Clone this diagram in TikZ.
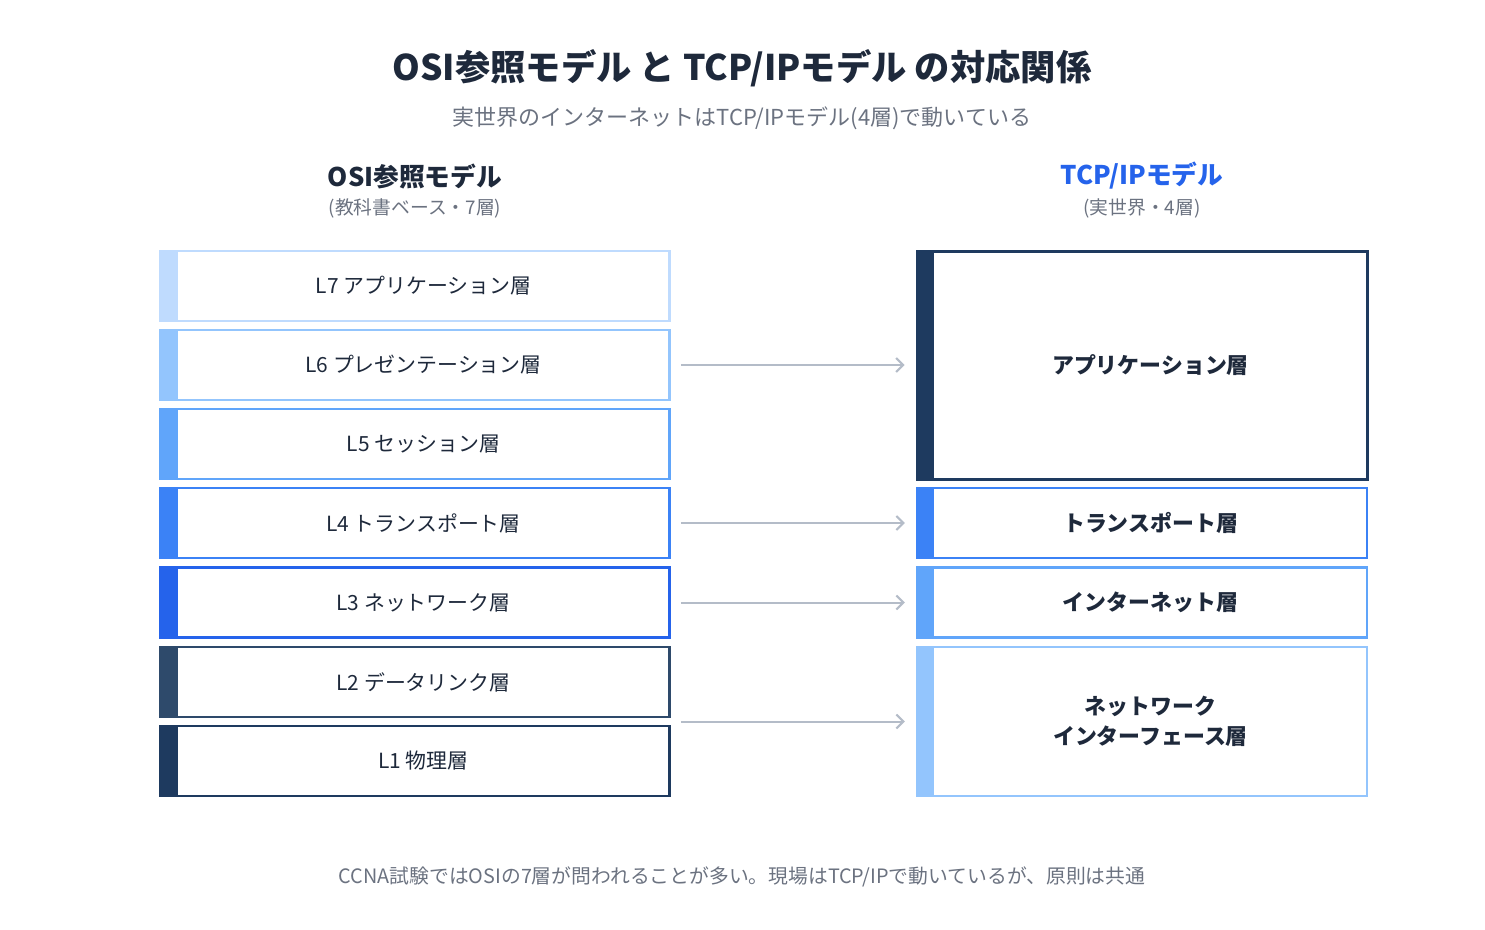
\documentclass[tikz,border=0pt]{standalone}
\usepackage{fontspec}
\setmainfont{Noto Sans CJK JP}
\usetikzlibrary{arrows.meta}
\definecolor{ink}{HTML}{1E293B}
\definecolor{muted}{HTML}{6B7280}
\definecolor{cA}{HTML}{BFDBFE}
\definecolor{cB}{HTML}{93C5FD}
\definecolor{cC}{HTML}{60A5FA}
\definecolor{cD}{HTML}{3B82F6}
\definecolor{cE}{HTML}{2563EB}
\definecolor{cF}{HTML}{2E4A6B}
\definecolor{cG}{HTML}{1E3A5F}
\definecolor{arrowgray}{HTML}{B4BCC8}
\tikzset{
  layerbox/.style={draw=#1, fill=white, line width=2.5pt, minimum width=509, minimum height=70,
    inner sep=0pt, text=ink, font=\fontsize{20.9}{25}\selectfont,
    execute at begin node=\hspace*{17pt},
    path picture={\fill[#1] (path picture bounding box.north west) rectangle ([xshift=17]path picture bounding box.south west);}},
  tcpbox/.style={layerbox=#1, minimum width=450, font=\fontsize{21.9}{30}\selectfont\bfseries, align=center},
  maparrow/.style={draw=arrowgray, line width=2pt, -{Straight Barb[length=7pt,width=14pt,line width=2pt]}},
  titletext/.style={text=ink, font=\fontsize{35.3}{40}\selectfont\bfseries},
  subtext/.style={text=muted, font=\fontsize{22}{26}\selectfont},
  headtext/.style={font=\fontsize{25.7}{30}\selectfont\bfseries},
  headsub/.style={text=muted, font=\fontsize{18.8}{22}\selectfont},
}
\begin{document}
\begin{tikzpicture}[x=1pt,y=-1pt]
\useasboundingbox (0,0) rectangle (1485,929);
\node[titletext] (title) at (742,68.5) {OSI参照モデル と TCP/IPモデル の対応関係};
\node[subtext] (subtitle) at (742,118) {実世界のインターネットはTCP/IPモデル(4層)で動いている};
\node[headtext, text=ink] (osihead) at (415,176) {OSI参照モデル};
\node[headsub] (osisub) at (415,208) {(教科書ベース・7層)};
\node[headtext, text=cE] (tcphead) at (1142,176) {TCP/IPモデル};
\node[headsub] (tcpsub) at (1142,208) {(実世界・4層)};
% OSI layers
\node[layerbox=cA] (l7) at (415,286) {L7 アプリケーション層};
\node[layerbox=cB] (l6) at (415,365) {L6 プレゼンテーション層};
\node[layerbox=cC] (l5) at (415,444) {L5 セッション層};
\node[layerbox=cD] (l4) at (415,523) {L4 トランスポート層};
\node[layerbox=cE] (l3) at (415,602.5) {L3 ネットワーク層};
\node[layerbox=cF] (l2) at (415,682) {L2 データリンク層};
\node[layerbox=cG] (l1) at (415,761) {L1 物理層};
% TCP/IP layers
\node[tcpbox=cG, minimum height=228, line width=3pt] (app) at (1142,365) {アプリケーション層};
\node[tcpbox=cD] (tr) at (1142,523) {トランスポート層};
\node[tcpbox=cC] (inet) at (1142,602.5) {インターネット層};
\node[tcpbox=cB, minimum height=149] (ni) at (1142,721.5) {ネットワーク\\インターフェース層};
% arrows
\draw[maparrow] ([xshift=10]l6.east |- app.west) -- ([xshift=-11]app.west);
\draw[maparrow] ([xshift=10]l4.east |- tr.west) -- ([xshift=-11]tr.west);
\draw[maparrow] ([xshift=10]l3.east |- inet.west) -- ([xshift=-11]inet.west);
\draw[maparrow] ([xshift=10]l1.east |- ni.west) -- ([xshift=-11]ni.west);
\node[text=muted, font=\fontsize{19.8}{24}\selectfont] (foot) at (742,877) {CCNA試験ではOSIの7層が問われることが多い。現場はTCP/IPで動いているが、原則は共通};
\end{tikzpicture}
\end{document}
